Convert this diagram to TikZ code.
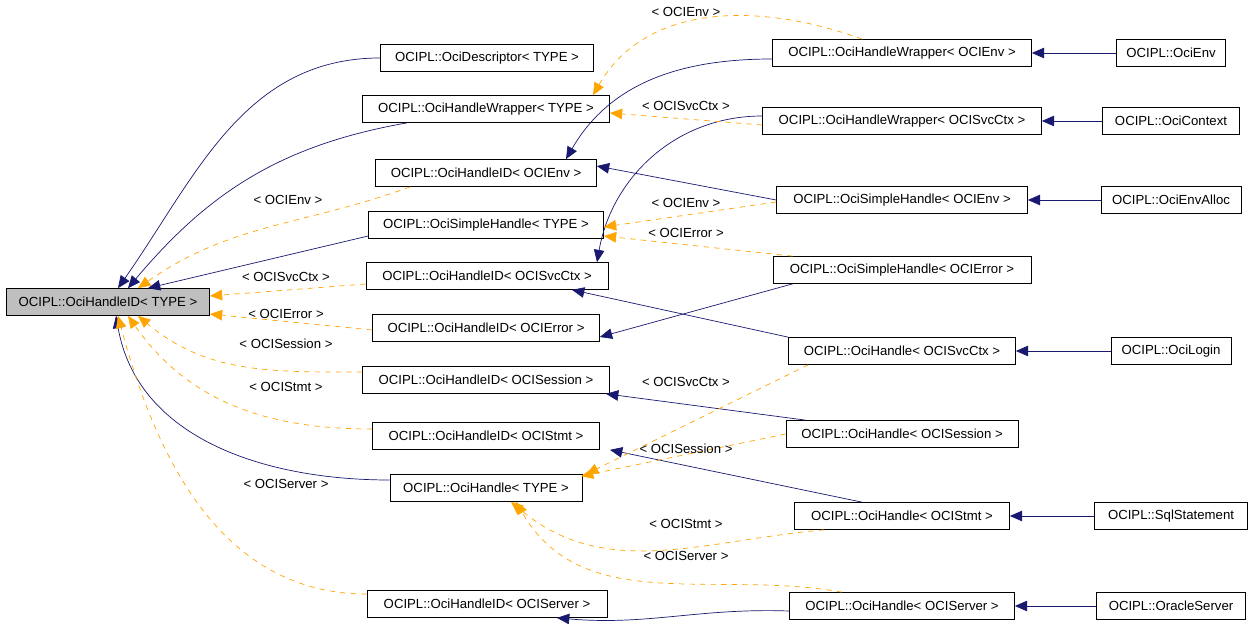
\documentclass[tikz,border=0pt]{standalone}
\usepackage{fontspec}
\setmainfont{Liberation Sans}
\usetikzlibrary{arrows.meta}
\definecolor{navy}{HTML}{191970}
\definecolor{tmplorange}{HTML}{FFA500}
\newcommand\px{*0.02cm}
\tikzset{
  box/.style={draw,fill=white,inner sep=0pt,minimum height=27\px,font=\fontsize{7.5}{9}\selectfont},
  inh/.style={navy,-{Triangle[length=7pt,width=6pt]},thin},
  tmpl/.style={tmplorange,dashed,-{Triangle[length=7pt,width=6pt]},thin},
  lbl/.style={font=\fontsize{7.5}{9}\selectfont,inner sep=1pt}
}
\begin{document}
\begin{tikzpicture}[x=0.02cm,y=0.02cm]
\useasboundingbox (0,0) rectangle (1256,-624);
% left column
\node[box,fill=black!25,minimum width=203\px] (base) at (108,-302) {OCIPL::OciHandleID< TYPE >};
\node[box,minimum width=213\px] (desc) at (487,-58) {OCIPL::OciDescriptor< TYPE >};
\node[box,minimum width=247\px] (hwT) at (486,-109) {OCIPL::OciHandleWrapper< TYPE >};
\node[box,minimum width=221\px] (hidEnv) at (486,-173) {OCIPL::OciHandleID< OCIEnv >};
\node[box,minimum width=235\px] (shT) at (486,-225) {OCIPL::OciSimpleHandle< TYPE >};
\node[box,minimum width=242\px] (hidSvc) at (487,-276) {OCIPL::OciHandleID< OCISvcCtx >};
\node[box,minimum width=227\px] (hidErr) at (486,-328) {OCIPL::OciHandleID< OCIError >};
\node[box,minimum width=247\px] (hidSes) at (486,-380) {OCIPL::OciHandleID< OCISession >};
\node[box,minimum width=227\px] (hidStm) at (486,-436) {OCIPL::OciHandleID< OCIStmt >};
\node[box,minimum width=192\px] (hT) at (486,-488) {OCIPL::OciHandle< TYPE >};
\node[box,minimum width=240\px] (hidSrv) at (487,-604) {OCIPL::OciHandleID< OCIServer >};
% middle column
\node[box,minimum width=259\px] (hwEnv) at (902,-53) {OCIPL::OciHandleWrapper< OCIEnv >};
\node[box,minimum width=279\px] (hwSvc) at (902,-121) {OCIPL::OciHandleWrapper< OCISvcCtx >};
\node[box,minimum width=251\px] (shEnv) at (902,-200) {OCIPL::OciSimpleHandle< OCIEnv >};
\node[box,minimum width=258\px] (shErr) at (902,-270) {OCIPL::OciSimpleHandle< OCIError >};
\node[box,minimum width=227\px] (hSvc) at (902,-351) {OCIPL::OciHandle< OCISvcCtx >};
\node[box,minimum width=232\px] (hSes) at (902,-434) {OCIPL::OciHandle< OCISession >};
\node[box,minimum width=215\px] (hStm) at (902,-516) {OCIPL::OciHandle< OCIStmt >};
\node[box,minimum width=225\px] (hSrv) at (902,-606) {OCIPL::OciHandle< OCIServer >};
% right column
\node[box,minimum width=109\px] (env) at (1171,-53) {OCIPL::OciEnv};
\node[box,minimum width=137\px] (ctx) at (1171,-121) {OCIPL::OciContext};
\node[box,minimum width=140\px] (envA) at (1171,-200) {OCIPL::OciEnvAlloc};
\node[box,minimum width=120\px] (login) at (1171,-351) {OCIPL::OciLogin};
\node[box,minimum width=153\px] (sql) at (1171,-516) {OCIPL::SqlStatement};
\node[box,minimum width=149\px] (srv) at (1171,-606) {OCIPL::OracleServer};
% right to middle
\foreach \a/\b in {env/hwEnv,ctx/hwSvc,envA/shEnv,login/hSvc,sql/hStm,srv/hSrv}
  \draw[inh] (\a) -- (\b);
% solid into base
\draw[inh] (desc.west) to[out=180,in=55] ([xshift=10\px]base.north);
\draw[inh] ([xshift=45\px]hwT.south west) to[out=190,in=50] ([xshift=20\px]base.north);
\draw[inh] ([yshift=-11\px]shT.west) -- ([xshift=40\px]base.north);
\draw[inh] ([yshift=8\px]hT.west) to[out=180,in=-80] ([xshift=8\px]base.south);
% dashed into base
\draw[tmpl] ([xshift=35\px]hidEnv.south west) to[out=200,in=35] ([xshift=30\px]base.north);
\draw[tmpl] ([yshift=-8\px]hidSvc.west) -- ([yshift=6\px]base.east);
\draw[tmpl] ([yshift=-2\px]hidErr.west) -- ([yshift=-12\px]base.east);
\draw[tmpl] ([yshift=8\px]hidSes.west) to[out=180,in=-40] ([xshift=30\px]base.south);
\draw[tmpl] ([yshift=7\px]hidStm.west) to[out=180,in=-55] ([xshift=20\px]base.south);
\draw[tmpl] ([yshift=10\px]hidSrv.west) to[out=180,in=-75] ([xshift=10\px]base.south);
\node[lbl] (lEnv) at (288,-200) {< OCIEnv >};
\node[lbl] (lSvc) at (286,-277) {< OCISvcCtx >};
\node[lbl] (lErr) at (286,-314) {< OCIError >};
\node[lbl] (lSes) at (286,-344) {< OCISession >};
\node[lbl] (lStm) at (286,-387) {< OCIStmt >};
\node[lbl] (lSrv) at (286,-484) {< OCIServer >};
% middle to left, solid
\draw[inh] ([yshift=-6\px]hwEnv.west) to[out=180,in=60] ([xshift=80\px]hidEnv.north);
\draw[inh] ([yshift=5\px]hwSvc.west) to[out=180,in=80] ([xshift=110\px]hidSvc.north);
\draw[inh] (shEnv.west) -- ([yshift=7\px]hidEnv.east);
\draw[inh] ([xshift=20\px]shErr.south west) -- ([yshift=-9\px]hidErr.east);
\draw[inh] (hSvc.north west) -- ([xshift=85\px]hidSvc.south);
\draw[inh] ([xshift=20\px]hSes.north west) -- ([xshift=120\px]hidSes.south);
\draw[inh] ([xshift=-40\px]hStm.north) -- ([xshift=124\px]hidStm.south);
\draw[inh] ([yshift=-5\px]hSrv.west) to[out=178,in=-5] ([xshift=70\px]hidSrv.south);
% middle to left, dashed
\draw[tmpl] ([xshift=90\px]hwEnv.north west) to[out=160,in=60] ([xshift=107\px]hwT.north);
\draw[tmpl] ([yshift=-4\px]hwSvc.west) -- ([yshift=-4\px]hwT.east);
\draw[tmpl] ([yshift=-2\px]shEnv.west) -- ([yshift=-2\px]shT.east);
\draw[tmpl] ([xshift=20\px]shErr.north west) -- ([yshift=-11\px]shT.east);
\draw[tmpl] ([xshift=20\px]hSvc.south west) -- ([xshift=100\px]hT.north);
\draw[tmpl] (hSes.west) -- ([xshift=95\px,yshift=-2\px]hT.north);
\draw[tmpl] ([xshift=30\px]hStm.south west) to[out=185,in=-40] ([xshift=25\px]hT.south);
\draw[tmpl] ([xshift=-60\px]hSrv.north) to[out=170,in=-60] ([xshift=30\px]hT.south);
\node[lbl] (mEnvW) at (686,-12) {< OCIEnv >};
\node[lbl] (mSvcW) at (686,-106) {< OCISvcCtx >};
\node[lbl] (mEnvS) at (686,-203) {< OCIEnv >};
\node[lbl] (mErrS) at (686,-233) {< OCIError >};
\node[lbl] (mSvcH) at (686,-382) {< OCISvcCtx >};
\node[lbl] (mSesH) at (686,-449) {< OCISession >};
\node[lbl] (mStmH) at (686,-524) {< OCIStmt >};
\node[lbl] (mSrvH) at (686,-556) {< OCIServer >};
\end{tikzpicture}
\end{document}
